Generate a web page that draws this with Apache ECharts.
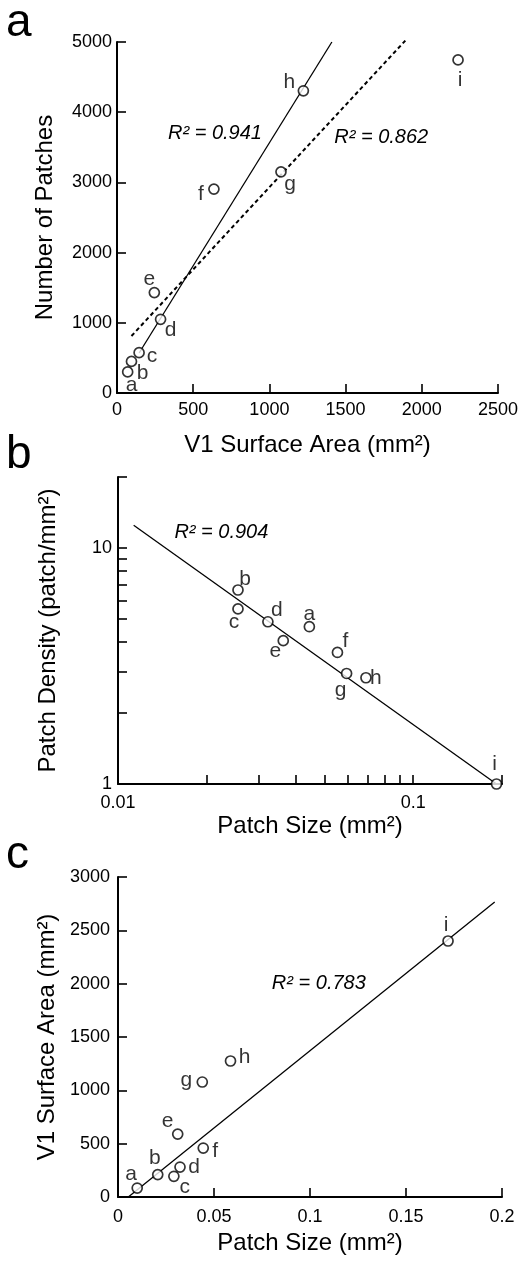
<!DOCTYPE html>
<html><head><meta charset="utf-8">
<script src="https://cdn.jsdelivr.net/npm/echarts@6/dist/echarts.min.js"></script>
<style>html,body{margin:0;padding:0;background:#fff}#c{width:521px;height:1262px}</style>
</head><body><div id="c"></div>
<script>
// ---------- data ----------
const pointNames = ['a','b','c','d','e','f','g','h','i'];

// Panel a: V1 surface area (mm2) vs number of patches
const aArea    = [70, 95, 145, 286, 245, 636, 1076, 1223, 2238];
const aPatches = [300, 450, 575, 1050, 1430, 2905, 3150, 4305, 4745];
const aFitSolid  = [[145, 570], [1410, 5000]];
const aFitDashed = [[95, 812], [1892, 5020]];
const aR2 = ['0.941', '0.862'];

// Panel b: patch size (mm2) vs patch density (patch/mm2), log-log
const bSize    = [0.0445, 0.0255, 0.0255, 0.0322, 0.0363, 0.0554, 0.0595, 0.0692, 0.1916];
const bDensity = [4.64, 6.64, 5.52, 4.87, 4.05, 3.61, 2.94, 2.82, 1.0];
const bFit = [[0.0113, 12.5], [0.1916, 1.0]];
const bR2 = '0.904';
const bXTickValues  = [0.01,0.02,0.03,0.04,0.05,0.06,0.07,0.08,0.09,0.1,0.2];
const bXLabelValues = [0.01, 0.1];
const bYTickValues  = [1,2,3,4,5,6,7,8,9,10,20];
const bYLabelValues = [1, 10];

// Panel c: patch size (mm2) vs V1 surface area (mm2)
const cSize = [0.0100, 0.0207, 0.0291, 0.0323, 0.0311, 0.0444, 0.0439, 0.0586, 0.1719];
const cArea = [84, 210, 194, 281, 590, 459, 1078, 1275, 2400];
const cFit = [[0.00536, 0], [0.1962, 2766]];
const cR2 = '0.783';

// ---------- styling (label placement, annotation anchors) ----------
const aLabelOffset = {a:[4,13], b:[11,12], c:[13,4], d:[10,11], e:[-5,-13], f:[-13,5], g:[9,12], h:[-14,-9], i:[2,20]};
const bLabelOffset = {a:[0,-13], b:[7,-11], c:[-4,13], d:[9,-12], e:[-8,11], f:[8,-11], g:[-6,17], h:[10,0], i:[-2,-20]};
const cLabelOffset = {a:[-6,-14], b:[-3,-16], c:[11,11], d:[14,0], e:[-10,-13], f:[12,3], g:[-16,-2], h:[14,-4], i:[-2,-16]};
const aR2Anchor = [[643, 3704], [1734, 3647]];
const bR2Anchor = [0.0224, 11.6];
const cR2Anchor = [0.1046, 2003];

const FONT = '"Liberation Sans", Arial, Helvetica, sans-serif';
const BLACK = '#000';

function pts(xs, ys, offs) {
  return pointNames.map((n, i) => ({ name: n, value: [xs[i], ys[i]], label: { offset: offs[n] } }));
}
function scatter(idx, xs, ys, offs) {
  return {
    type: 'scatter', xAxisIndex: idx, yAxisIndex: idx, z: 5, clip: false,
    symbol: 'circle', symbolSize: 10,
    itemStyle: { color: '#fff', borderColor: BLACK, borderWidth: 1.7 },
    label: { show: true, position: 'inside', formatter: '{b}', color: BLACK, fontSize: 21, fontFamily: FONT,
             textBorderWidth: 0, textBorderColor: 'transparent' },
    emphasis: { disabled: true },
    data: pts(xs, ys, offs)
  };
}
function r2Mark(anchor, txt) {
  return {
    symbol: 'circle', symbolSize: 0, silent: true,
    label: { show: true, position: 'inside', formatter: 'R² = ' + txt, color: BLACK, fontSize: 20, fontStyle: 'italic', fontFamily: FONT,
             textBorderWidth: 0, textBorderColor: 'transparent' },
    data: [{ coord: anchor }]
  };
}
function fitLine(idx, data, type, width, mark) {
  const s = {
    type: 'line', xAxisIndex: idx, yAxisIndex: idx, z: 3, clip: false,
    showSymbol: false, symbol: 'none', silent: true,
    lineStyle: { color: BLACK, width: width, type: type },
    data: data
  };
  if (mark) s.markPoint = mark;
  return s;
}
const plain = v => String(v);
const axisLineStyle = { show: true, onZero: false, lineStyle: { color: BLACK, width: 2 } };
const tickStyle = { show: true, inside: true, length: 9, lineStyle: { color: BLACK, width: 1.6 } };
const labelStyle = (margin) => ({ color: BLACK, fontSize: 18, fontFamily: FONT, margin: margin, formatter: plain });
const nameStyle = { color: BLACK, fontSize: 24, fontFamily: FONT };

const option = {
  animation: false,
  backgroundColor: '#fff',
  graphic: [
    { type: 'text', left: 6, top: 0, style: { text: 'a', fontSize: 46, fontFamily: FONT, fill: BLACK } },
    { type: 'text', left: 6, top: 432, style: { text: 'b', fontSize: 46, fontFamily: FONT, fill: BLACK } },
    { type: 'text', left: 6, top: 832, style: { text: 'c', fontSize: 46, fontFamily: FONT, fill: BLACK } }
  ],
  grid: [
    { left: 117, top: 42, width: 385, height: 351 },
    { left: 118, top: 477, width: 384, height: 307 },
    { left: 118, top: 877, width: 384, height: 320 }
  ],
  xAxis: [
    { gridIndex: 0, type: 'value', min: 0, max: 2500, interval: 500,
      name: 'V1 Surface Area (mm²)', nameLocation: 'middle', nameGap: 40, nameTextStyle: nameStyle,
      axisLine: axisLineStyle, axisTick: tickStyle, axisLabel: labelStyle(8), splitLine: { show: false } },
    { gridIndex: 1, type: 'log', logBase: 10, min: 0.01, max: 0.2,
      name: 'Patch Size (mm²)', nameLocation: 'middle', nameGap: 30, nameTextStyle: nameStyle,
      axisLine: axisLineStyle,
      axisTick: Object.assign({}, tickStyle, { customValues: bXTickValues }),
      axisLabel: Object.assign(labelStyle(10), { customValues: bXLabelValues }),
      splitLine: { show: false }, minorTick: { show: false } },
    { gridIndex: 2, type: 'value', min: 0, max: 0.2, interval: 0.05,
      name: 'Patch Size (mm²)', nameLocation: 'middle', nameGap: 34, nameTextStyle: nameStyle,
      axisLine: axisLineStyle, axisTick: tickStyle, axisLabel: labelStyle(11), splitLine: { show: false } }
  ],
  yAxis: [
    { gridIndex: 0, type: 'value', min: 0, max: 5000, interval: 1000,
      name: 'Number of Patches', nameLocation: 'middle', nameGap: 60, nameTextStyle: nameStyle,
      axisLine: axisLineStyle, axisTick: tickStyle, axisLabel: labelStyle(5), splitLine: { show: false } },
    { gridIndex: 1, type: 'log', logBase: 10, min: 1, max: 20,
      name: 'Patch Density (patch/mm²)', nameLocation: 'middle', nameGap: 58, nameTextStyle: nameStyle,
      axisLine: axisLineStyle,
      axisTick: Object.assign({}, tickStyle, { customValues: bYTickValues }),
      axisLabel: Object.assign(labelStyle(6), { customValues: bYLabelValues }),
      splitLine: { show: false }, minorTick: { show: false } },
    { gridIndex: 2, type: 'value', min: 0, max: 3000, interval: 500,
      name: 'V1 Surface Area (mm²)', nameLocation: 'middle', nameGap: 58, nameTextStyle: nameStyle,
      axisLine: axisLineStyle, axisTick: tickStyle, axisLabel: labelStyle(8), splitLine: { show: false } }
  ],
  series: [
    fitLine(0, aFitSolid, 'solid', 1.3, r2Mark(aR2Anchor[0], aR2[0])),
    fitLine(0, aFitDashed, [4, 3], 2, r2Mark(aR2Anchor[1], aR2[1])),
    scatter(0, aArea, aPatches, aLabelOffset),
    fitLine(1, bFit, 'solid', 1.3, r2Mark(bR2Anchor, bR2)),
    scatter(1, bSize, bDensity, bLabelOffset),
    fitLine(2, cFit, 'solid', 1.3, r2Mark(cR2Anchor, cR2)),
    scatter(2, cSize, cArea, cLabelOffset)
  ]
};
const chart = echarts.init(document.getElementById('c'), null, { renderer: 'canvas' });
chart.setOption(option);
</script>
</body></html>
